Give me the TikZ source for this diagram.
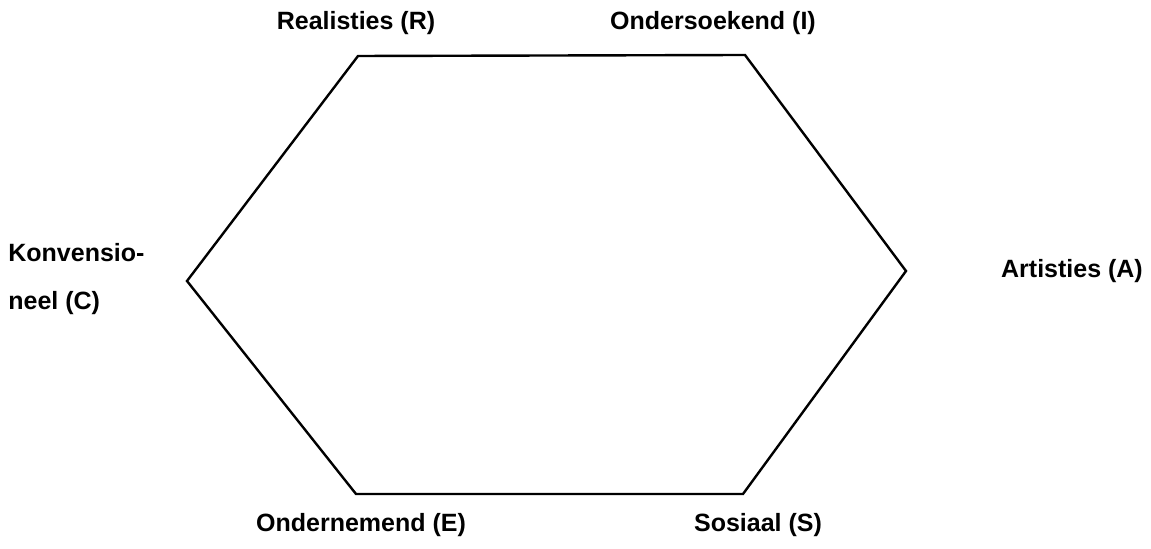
\documentclass[tikz,border=0pt]{standalone}
\usepackage{fontspec}
\setmainfont{Liberation Sans}
\begin{document}
\begin{tikzpicture}[x=0.5pt,y=-0.5pt,
  lbl/.style={font=\bfseries\fontsize{12.5}{15}\selectfont, inner sep=0pt}]
\useasboundingbox (0,0) rectangle (1151,549);

\coordinate (r) at (358,56);
\coordinate (i) at (745,55);
\coordinate (a) at (906,271);
\coordinate (s) at (743,494);
\coordinate (e) at (356,494);
\coordinate (c) at (187,281);

\draw[line width=1.2pt, line join=miter] (r) -- (i) -- (a) -- (s) -- (e) -- (c) -- cycle;

\node[lbl] (rl) at (356,23) {Realisties (R)};
\node[lbl] (il) at (713,23) {Ondersoekend (I)};
\node[lbl] (al) at (1072,271) {Artisties (A)};
\node[lbl] (sl) at (758,525) {Sosiaal (S)};
\node[lbl] (el) at (361,525) {Ondernemend (E)};
\node[lbl, anchor=west, align=left] (cl) at (8,279) {Konvensio-\\[9pt]neel (C)};
\end{tikzpicture}
\end{document}
